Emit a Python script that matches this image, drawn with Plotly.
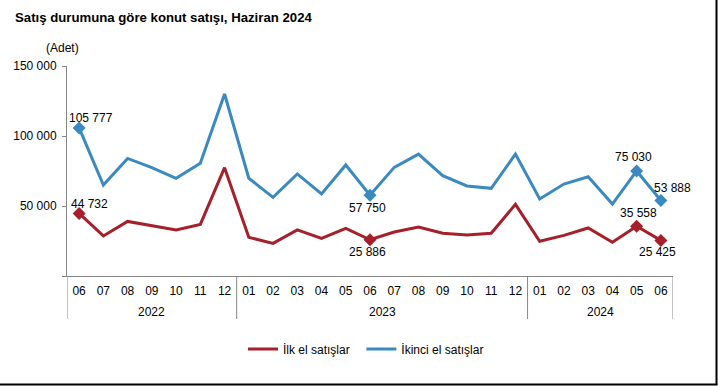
import plotly.graph_objects as go

years = ["2022"] * 7 + ["2023"] * 12 + ["2024"] * 6
months = ["06", "07", "08", "09", "10", "11", "12",
          "01", "02", "03", "04", "05", "06", "07", "08", "09", "10", "11", "12",
          "01", "02", "03", "04", "05", "06"]

ilk_el = [44732, 28600, 39000, 35700, 32900, 36900, 77400,
          27600, 23300, 32900, 26900, 34000, 25886, 31400, 35000, 30500, 29300, 30500, 51200,
          24800, 29000, 34300, 24100, 35558, 25425]
ikinci_el = [105777, 65000, 84000, 77400, 69800, 80500, 130000,
             69800, 56200, 72900, 58600, 79300, 57750, 77600, 87100, 71700, 64300, 62600, 87100,
             55000, 65700, 70900, 51400, 75030, 53888]

series_names = ["İlk el satışlar", "İkinci el satışlar"]
labeled_idx = [0, 12, 23, 24]
ytick_vals = [0, 50000, 100000, 150000]
ytick_text = ["", "50 000", "100 000", "150 000"]

RED = "#A5202A"
BLUE = "#3A89C0"
GRAY = "#868686"
FONT = "Liberation Sans, Arial, sans-serif"

idx = list(range(len(months)))


def fmt(v):
    return f"{v:,}".replace(",", " ")


fig = go.Figure()
# small non-breaking padding after the first legend entry to widen the item gap
legend_pad = ["\u00a0\u00a0", ""]
for name, pad, vals, col in zip(series_names, legend_pad, [ilk_el, ikinci_el], [RED, BLUE]):
    sizes = [10 if i in labeled_idx else 0 for i in idx]
    fig.add_trace(go.Scatter(
        x=idx, y=vals, name=name + pad, mode="lines+markers",
        line=dict(color=col, width=3),
        marker=dict(symbol="diamond", size=sizes, color=col, opacity=1,
                    line=dict(width=0, color=col)),
        hoverinfo="skip",
    ))

# data labels: (index, dx, dy)
red_shifts = {0: (10, 9), 12: (-3, -12), 23: (2, 13), 24: (-3, -12)}
blue_shifts = {0: (12, 10), 12: (-3, -13), 23: (-3, 14), 24: (12, 13)}
for vals, shifts in [(ilk_el, red_shifts), (ikinci_el, blue_shifts)]:
    for i in labeled_idx:
        dx, dy = shifts[i]
        fig.add_annotation(x=i, y=vals[i], text=fmt(vals[i]), showarrow=False,
                           xshift=dx, yshift=dy, font=dict(size=12, color="#000000", family=FONT))

# year groups: labels and dividers derived from the years list
groups = []
for i, yv in enumerate(years):
    if not groups or groups[-1][0] != yv:
        groups.append([yv, i, i])
    else:
        groups[-1][2] = i
Y_DIV_BOTTOM = (276 - 319) / 210
Y_YEAR = (276 - 312) / 210
for yv, a, b in groups:
    fig.add_annotation(x=(a + b) / 2, xref="x", y=Y_YEAR, yref="paper", text=yv,
                       showarrow=False, xanchor="center", yanchor="middle",
                       font=dict(size=12, family=FONT, color="#000000"))
bounds = [g[1] - 0.5 for g in groups] + [groups[-1][2] + 0.5]
for bx in bounds:
    fig.add_shape(type="line", xref="x", yref="paper", x0=bx, x1=bx, y0=0, y1=Y_DIV_BOTTOM,
                  line=dict(color=GRAY, width=1))

fig.add_annotation(xref="paper", yref="paper", x=(62.5 - 67) / 606, y=(276 - 48) / 210,
                   text="(Adet)", showarrow=False, xanchor="center", yanchor="middle",
                   font=dict(size=12, color="#000000", family=FONT))

# frame on right and bottom
fig.add_shape(type="line", xref="paper", yref="paper",
              x0=(716.5 - 67) / 606, x1=(716.5 - 67) / 606, y0=(276 - 384.5) / 210, y1=(276 + 0) / 210,
              line=dict(color="#000000", width=2))
fig.add_shape(type="line", xref="paper", yref="paper",
              x0=(-67) / 606, x1=(717.5 - 67) / 606, y0=(276 - 384.5) / 210, y1=(276 - 384.5) / 210,
              line=dict(color="#000000", width=2))

fig.update_layout(
    width=718, height=386,
    margin=dict(l=67, r=45, t=66, b=110),
    paper_bgcolor="white", plot_bgcolor="white",
    font=dict(family=FONT, size=12, color="#000000"),
    title=dict(text="<b>Satış durumuna göre konut satışı, Haziran 2024</b>",
               x=15 / 718, xanchor="left", xref="container",
               y=1 - 17.5 / 386, yanchor="middle", yref="container",
               font=dict(size=13.2, family=FONT, color="#000000")),
    showlegend=True,
    legend=dict(orientation="h", x=(366 - 67) / 606, xanchor="center", xref="paper",
                y=(276 - 349) / 210, yanchor="middle",
                font=dict(size=12, family=FONT), itemwidth=30,
                bgcolor="rgba(0,0,0,0)"),
    xaxis=dict(range=[-0.5, 24.5], tickvals=idx, ticktext=months, automargin=False,
               showline=True, linecolor=GRAY, linewidth=1,
               ticks="", showgrid=False, zeroline=False, ticklabelstandoff=4,
               tickfont=dict(size=12, family=FONT)),
    xaxis2=dict(overlaying="x", anchor="y", side="bottom", range=[-0.5, 24.5], automargin=False,
                tick0=0.5, dtick=1, ticks="outside", ticklen=21, tickcolor=GRAY,
                showticklabels=False, showgrid=False, showline=False, zeroline=False),
    yaxis=dict(range=[0, 150000], tickvals=ytick_vals, ticktext=ytick_text, automargin=False,
               showline=True, linecolor=GRAY, linewidth=1,
               ticks="outside", ticklen=4, tickcolor=GRAY,
               showgrid=False, zeroline=False, ticklabelstandoff=3,
               tickfont=dict(size=12, family=FONT)),
)

fig.write_html("out.html", config={"displayModeBar": False},
               post_script="document.body.style.margin='0';")
